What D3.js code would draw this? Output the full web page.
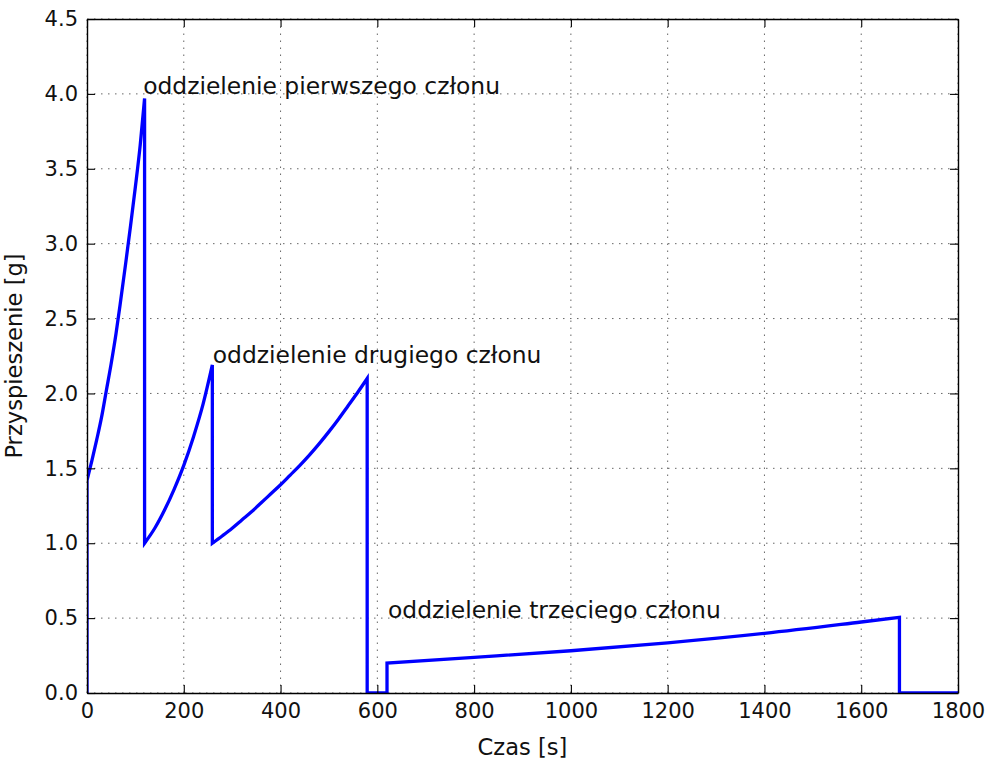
<!DOCTYPE html>
<html>
<head>
<meta charset="utf-8">
<script src="https://cdn.jsdelivr.net/npm/d3@7"></script>
<style>
  body { margin: 0; background: #fff; }
  svg { font-family: "DejaVu Sans", sans-serif; }
</style>
</head>
<body>
<div id="chart"></div>
<script>
// czas [s] i przyspieszenie [g]
const time = [0, 0, 10, 20, 30, 40, 50, 60, 70, 80, 90, 100, 110, 119,
  119, 140, 160, 180, 200, 220, 240, 259,
  259, 280, 300, 320, 340, 360, 380, 400, 420, 440, 460, 480, 500, 520, 540, 560, 579,
  579, 620,
  620, 800, 1000, 1200, 1400, 1600, 1679,
  1679, 1800];
const accel = [0, 1.42, 1.55, 1.69, 1.84, 2.02, 2.20, 2.40, 2.63, 2.87, 3.12, 3.38, 3.66, 3.97,
  1.0, 1.10, 1.22, 1.36, 1.52, 1.71, 1.93, 2.19,
  1.0, 1.05, 1.10, 1.155, 1.21, 1.27, 1.33, 1.39, 1.455, 1.52, 1.59, 1.665, 1.745, 1.83, 1.92, 2.01, 2.10,
  0, 0,
  0.20, 0.238, 0.282, 0.335, 0.398, 0.474, 0.505,
  0, 0];

const xTicks = [0, 200, 400, 600, 800, 1000, 1200, 1400, 1600, 1800];
const yTicks = [0, 0.5, 1.0, 1.5, 2.0, 2.5, 3.0, 3.5, 4.0, 4.5];

const labelText = ["oddzielenie pierwszego członu", "oddzielenie drugiego członu", "oddzielenie trzeciego członu"];
const labelTime = [116, 260, 622];
const labelAccel = [4.0, 2.2, 0.5];

const width = 993, height = 762;
const margin = { top: 19, right: 35, bottom: 69, left: 87 };
const tickFont = 21, labelFont = 22.6, annotFont = 23.4;

const svg = d3.select("#chart").append("svg")
  .attr("width", width).attr("height", height);

const x = d3.scaleLinear().domain([0, 1800]).range([margin.left, width - margin.right]);
const y = d3.scaleLinear().domain([0, 4.5]).range([height - margin.bottom, margin.top]);

svg.append("clipPath").attr("id", "plot-clip")
  .append("rect")
  .attr("x", x(0)).attr("y", y(4.5))
  .attr("width", x(1800) - x(0)).attr("height", y(0) - y(4.5));

// siatka
const grid = svg.append("g").attr("stroke", "#000").attr("stroke-width", 0.8)
  .attr("stroke-dasharray", "1.5,5.5").attr("opacity", 0.75);
grid.selectAll(".gx").data(xTicks).join("line")
  .attr("x1", d => x(d)).attr("x2", d => x(d))
  .attr("y1", y(0)).attr("y2", y(4.5));
grid.selectAll(".gy").data(yTicks).join("line")
  .attr("x1", x(0)).attr("x2", x(1800))
  .attr("y1", d => y(d)).attr("y2", d => y(d));

// dzielimy na odcinki o rosnącym czasie, żeby wygładzić krzywe, a skoki zostawić pionowe
const data = time.map((t, i) => ({ t: t, a: accel[i] }));
const runs = [];
data.forEach((d, i) => {
  if (i === 0 || d.t === data[i - 1].t) runs.push([d]);
  else runs[runs.length - 1].push(d);
});
const line = d3.line().x(d => x(d.t)).y(d => y(d.a)).curve(d3.curveMonotoneX);
const pathD = runs.map((r, i) => {
  if (r.length === 1) return (i ? "L" : "M") + x(r[0].t) + "," + y(r[0].a);
  const s = line(r);
  return i ? "L" + s.slice(1) : s;
}).join("");

svg.append("path")
  .attr("clip-path", "url(#plot-clip)")
  .attr("fill", "none")
  .attr("stroke", "#0000ff")
  .attr("stroke-width", 3.3)
  .attr("stroke-linejoin", "miter")
  .attr("d", pathD);

// osie
const gX = svg.append("g").attr("transform", `translate(0,${y(0)})`)
  .call(d3.axisBottom(x).tickValues(xTicks).tickFormat(d3.format("d")).tickSizeInner(-8).tickSizeOuter(0).tickPadding(10));
const gXt = svg.append("g").attr("transform", `translate(0,${y(4.5)})`)
  .call(d3.axisTop(x).tickValues(xTicks).tickFormat("").tickSizeInner(-8).tickSizeOuter(0));
const gY = svg.append("g").attr("transform", `translate(${x(0)},0)`)
  .call(d3.axisLeft(y).tickValues(yTicks).tickFormat(d3.format(".1f")).tickSizeInner(-8).tickSizeOuter(0).tickPadding(9));
const gYr = svg.append("g").attr("transform", `translate(${x(1800)},0)`)
  .call(d3.axisRight(y).tickValues(yTicks).tickFormat("").tickSizeInner(-8).tickSizeOuter(0));

[gX, gXt, gY, gYr].forEach(g => {
  g.select(".domain").attr("stroke", "#000").attr("stroke-width", 1.4);
  g.selectAll(".tick line").attr("stroke", "#000").attr("stroke-width", 1.1);
  g.selectAll("text").attr("font-size", tickFont).attr("fill", "#111")
    .attr("font-family", "DejaVu Sans");
});

// adnotacje
svg.selectAll(".annot").data(labelText).join("text")
  .attr("x", (d, i) => x(labelTime[i]))
  .attr("y", (d, i) => y(labelAccel[i]))
  .attr("font-size", annotFont)
  .attr("fill", "#111")
  .text(d => d);

svg.append("text")
  .attr("x", (x(0) + x(1800)) / 2).attr("y", 755)
  .attr("text-anchor", "middle").attr("font-size", labelFont).attr("fill", "#111")
  .text("Czas [s]");

svg.append("text")
  .attr("transform", `translate(22,${(y(0) + y(4.5)) / 2}) rotate(-90)`)
  .attr("text-anchor", "middle").attr("font-size", labelFont).attr("fill", "#111")
  .text("Przyspieszenie [g]");
</script>
</body>
</html>
